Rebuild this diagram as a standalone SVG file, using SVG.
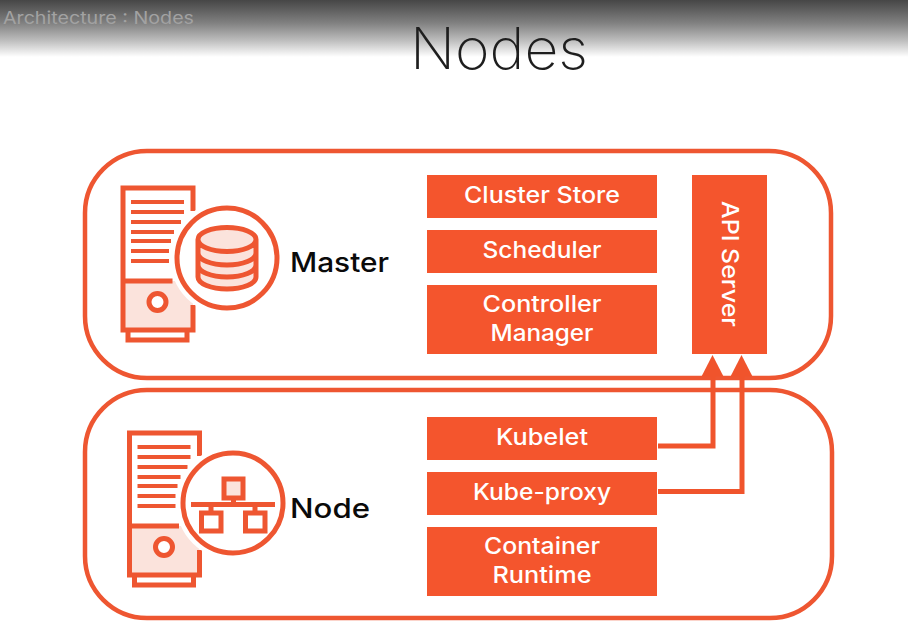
<svg xmlns="http://www.w3.org/2000/svg" width="908" height="638" viewBox="0 0 908 638">
<style>
.pan{fill:none;stroke:#ee5631;stroke-width:4.5}
.box{fill:#f4552d}
.lbl{font-family:"Inter","Open Sans",sans-serif;font-size:22.5px;font-weight:500;fill:#fff;text-anchor:middle}
.ic{fill:none;stroke:#ee5631;stroke-width:5}
.tint{fill:#fbe3dc}
.bar{stroke:#ee5631;stroke-width:4.200;fill:none}
.name{font-family:"Inter","Open Sans",sans-serif;font-size:27px;font-weight:500;fill:#0a0a0a}
.con{fill:none;stroke:#f0542c;stroke-width:5}
.hd{fill:#f0542c}
</style>
<defs>
<linearGradient id="hdr" x1="0" y1="0" x2="0" y2="1">
<stop offset="0" stop-color="#464646"/>
<stop offset="0.4" stop-color="#808080"/>
<stop offset="0.7" stop-color="#bbbbbb"/>
<stop offset="1" stop-color="#ffffff"/>
</linearGradient>
<g id="server">
<path class="tint" d="M123 281H193V330H123Z"/>
<path class="ic" d="M193 211V188H123V330H193V305"/>
<path class="ic" d="M128 330V340H187V330"/>
<path class="bar" d="M131 202H184M131 212H184M131 222H181M131 232H174M131 241H171M131 251H169M131 261H169"/>
<path class="ic" d="M123 281H172.500"/>
<circle class="ic" cx="157.500" cy="302" r="8.500" style="fill:#fff"/>
</g>
</defs>
<rect width="908" height="638" fill="#fff"/>
<rect id="header" width="908" height="57" fill="url(#hdr)"/>
<text x="3" y="24" font-family="Inter,'Open Sans',sans-serif" font-size="17px" fill="#a2a2a2" textLength="191" lengthAdjust="spacingAndGlyphs">Architecture : Nodes</text>
<text x="410" y="69" font-family="Inter,'Open Sans',sans-serif" font-size="57px" font-weight="200" fill="#1e1e1e" textLength="178" lengthAdjust="spacingAndGlyphs">Nodes</text>

<g id="master">
<rect class="pan" x="85" y="151" width="746" height="227" rx="62"/>
<use href="#server"/>
<circle cx="227" cy="258" r="57" fill="#fff"/>
<circle cx="227" cy="258" r="50" fill="#fff" stroke="#ee5631" stroke-width="5"/>
<path class="tint" d="M198 239.500a29 12 0 0 1 58 0V277a29 12 0 0 1-58 0Z"/>
<path class="ic" d="M198 239.500a29 12 0 0 1 58 0a29 12 0 0 1-58 0ZM198 239.500V277a29 12 0 0 0 58 0V239.500M198 253a29 12 0 0 0 58 0M198 265a29 12 0 0 0 58 0"/>
<text class="name" x="290" y="272" textLength="99" lengthAdjust="spacingAndGlyphs">Master</text>
</g>

<g id="cluster-store"><rect class="box" x="427" y="175" width="230" height="43"/><text class="lbl" x="542" y="203" textLength="156" lengthAdjust="spacingAndGlyphs">Cluster Store</text></g>
<g id="scheduler"><rect class="box" x="427" y="230" width="230" height="43"/><text class="lbl" x="542" y="258" textLength="119" lengthAdjust="spacingAndGlyphs">Scheduler</text></g>
<g id="controller-manager"><rect class="box" x="427" y="285" width="230" height="69"/><text class="lbl" x="542" y="312" textLength="119" lengthAdjust="spacingAndGlyphs">Controller</text><text class="lbl" x="542" y="341" textLength="103" lengthAdjust="spacingAndGlyphs">Manager</text></g>
<g id="api-server"><rect class="box" x="692" y="175" width="75" height="179"/><text class="lbl" transform="translate(722,264) rotate(90)" x="0" y="0" textLength="126" lengthAdjust="spacingAndGlyphs">API Server</text></g>

<g id="node">
<rect class="pan" x="85" y="390" width="747" height="228" rx="62"/>
<use href="#server" x="6.500" y="245"/>
<circle cx="233" cy="503" r="57" fill="#fff"/>
<circle cx="233" cy="503" r="50" fill="#fff" stroke="#ee5631" stroke-width="5"/>
<rect class="tint" x="224" y="479" width="19" height="19"/>
<path class="ic" d="M224 479H243V498H224ZM233.500 498V504M191 504.500H275M211 504.500V513M255 504.500V513M201.500 513H221V531H201.500ZM245.500 513H265V531H245.500Z"/>
<text class="name" x="290" y="518" textLength="80" lengthAdjust="spacingAndGlyphs">Node</text>
</g>

<g id="kubelet"><rect class="box" x="427" y="417" width="230" height="43"/><text class="lbl" x="542" y="445" textLength="92" lengthAdjust="spacingAndGlyphs">Kubelet</text></g>
<g id="kube-proxy"><rect class="box" x="427" y="472" width="230" height="43"/><text class="lbl" x="542" y="500" textLength="138" lengthAdjust="spacingAndGlyphs">Kube-proxy</text></g>
<g id="container-runtime"><rect class="box" x="427" y="527" width="230" height="69"/><text class="lbl" x="542" y="554" textLength="116" lengthAdjust="spacingAndGlyphs">Container</text><text class="lbl" x="542" y="583" textLength="99" lengthAdjust="spacingAndGlyphs">Runtime</text></g>

<g id="connectors">
<path class="con" d="M658 446H713V374"/>
<path class="con" d="M658 491.500H742V374"/>
<path class="hd" d="M712.500 355L723.500 376.500H701.500Z"/>
<path class="hd" d="M741.500 355L752.500 376.500H730.500Z"/>
</g>
</svg>
